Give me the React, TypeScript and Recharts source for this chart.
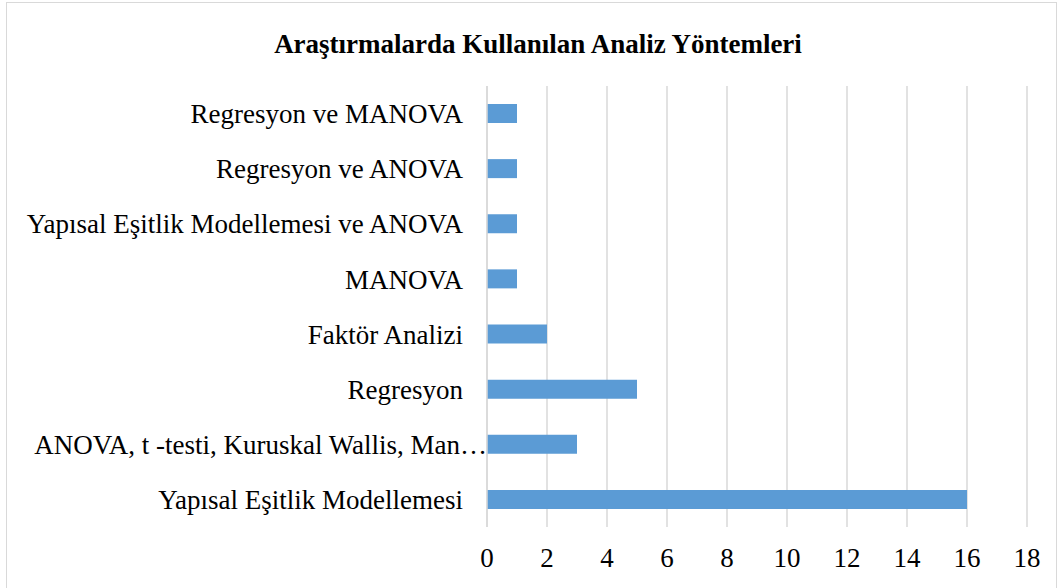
import { BarChart, Bar, XAxis, YAxis, CartesianGrid } from 'recharts';

// categories listed top to bottom, as they appear on the chart
const methods = [
  'Regresyon ve MANOVA',
  'Regresyon ve ANOVA',
  'Yapısal Eşitlik Modellemesi ve ANOVA',
  'MANOVA',
  'Faktör Analizi',
  'Regresyon',
  'ANOVA, t -testi, Kuruskal Wallis, Man…',
  'Yapısal Eşitlik Modellemesi',
];
const counts = [1, 1, 1, 1, 2, 5, 3, 16];
const xTicks = [0, 2, 4, 6, 8, 10, 12, 14, 16, 18];

const data = methods.map((name, i) => ({ name, count: counts[i] }));

const font = 'Times New Roman, Liberation Serif, serif';

// the truncated label runs right up to the axis, like in the original
function CategoryTick(props: any) {
  const { x, y, payload } = props;
  const clipped = String(payload.value).endsWith('…');
  return (
    <text
      x={clipped ? x + 24 : x}
      y={y}
      dy="0.355em"
      textAnchor="end"
      fill="#000"
      fontSize={27}
      fontFamily={font}
    >
      {payload.value}
    </text>
  );
}

export default function App() {
  return (
    <div style={{ position: 'absolute', left: 0, top: 0, width: 1060, height: 588, background: '#fff', overflow: 'hidden' }}>
      <div
        style={{
          position: 'absolute', left: 6, top: 2, width: 1051, height: 600,
          border: '1px solid #d9d9d9', boxSizing: 'border-box',
        }}
      />
      <div
        style={{
          position: 'absolute', left: 0, top: 29, width: 1076, textAlign: 'center',
          fontFamily: font, fontWeight: 'bold', fontSize: 27, lineHeight: '30px', color: '#000',
        }}
      >
        Araştırmalarda Kullanılan Analiz Yöntemleri
      </div>
      <div style={{ position: 'absolute', left: 0, top: 0 }}>
        <BarChart
          width={1060}
          height={588}
          data={data}
          layout="vertical"
          margin={{ top: 86, right: 33, bottom: 21, left: 0 }}
        >
          <CartesianGrid horizontal={false} stroke="#d9d9d9" strokeWidth={1.5} />
          <XAxis
            type="number"
            domain={[0, 18]}
            ticks={xTicks}
            axisLine={false}
            tickLine={false}
            height={40}
            tickMargin={15}
            tick={{ fill: '#000', fontSize: 27, fontFamily: font }}
          />
          <YAxis
            type="category"
            dataKey="name"
            width={487}
            axisLine={{ stroke: '#d9d9d9', strokeWidth: 1.5 }}
            tickLine={false}
            tickMargin={18}
            interval={0}
            tick={<CategoryTick />}
          />
          <Bar dataKey="count" fill="#5b9bd5" barSize={19} isAnimationActive={false} />
        </BarChart>
      </div>
    </div>
  );
}
